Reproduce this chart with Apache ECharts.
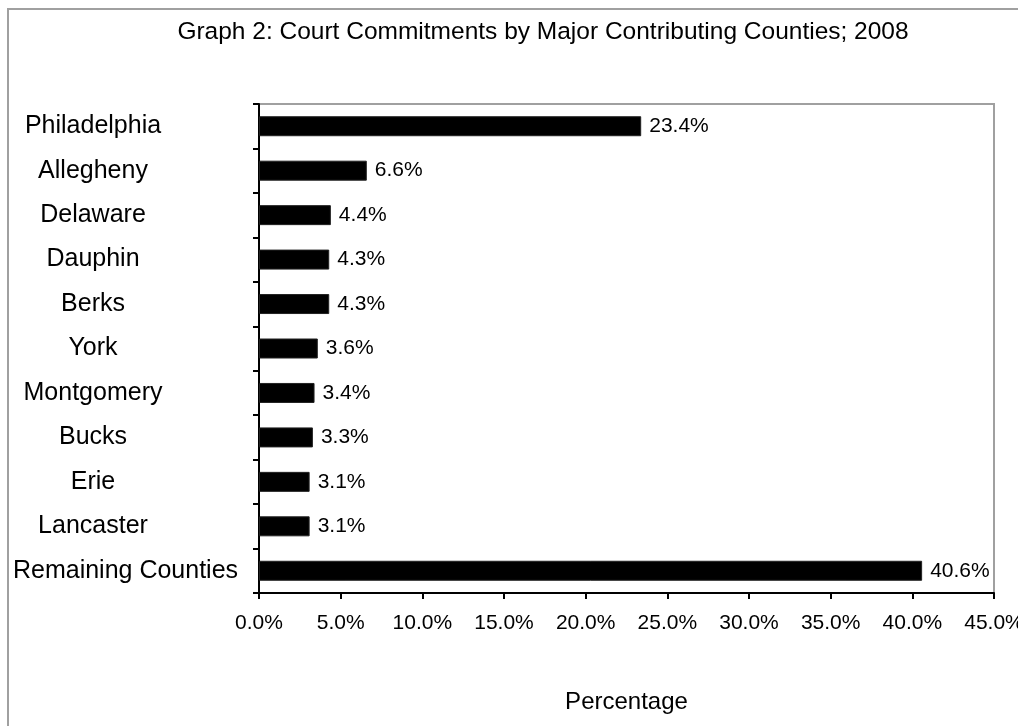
<!DOCTYPE html>
<html>
<head>
<meta charset="utf-8">
<script src="https://cdn.jsdelivr.net/npm/echarts@6/dist/echarts.min.js"></script>
<style>html,body{margin:0;padding:0;background:#fff}#c{width:1018px;height:726px}</style>
</head>
<body>
<div id="c"></div>
<script>
const counties = ['Philadelphia','Allegheny','Delaware','Dauphin','Berks','York','Montgomery','Bucks','Erie','Lancaster','Remaining Counties'];
const percentages = [23.4, 6.6, 4.4, 4.3, 4.3, 3.6, 3.4, 3.3, 3.1, 3.1, 40.6];
const xTicks = [0, 5, 10, 15, 20, 25, 30, 35, 40, 45];

const FONT = "'Liberation Sans', Arial, sans-serif";
const chart = echarts.init(document.getElementById('c'), null, {renderer: 'canvas'});
chart.setOption({
  animation: false,
  backgroundColor: '#fff',
  textStyle: {fontFamily: FONT, color: '#000'},
  graphic: [{
    type: 'rect',
    shape: {x: 8, y: 9, width: 1030, height: 740},
    style: {fill: 'none', stroke: '#a0a0a0', lineWidth: 2},
    silent: true
  }],
  title: {
    text: 'Graph 2: Court Commitments by Major Contributing Counties; 2008',
    left: 538, top: 15, textAlign: 'center',
    textStyle: {fontFamily: FONT, fontSize: 24.5, fontWeight: 'normal', color: '#000'}
  },
  grid: {
    left: 259, right: 24, top: 104, bottom: 133,
    outerBoundsMode: 'none', containLabel: false,
    show: true, borderColor: '#a0a0a0', borderWidth: 2, backgroundColor: 'transparent'
  },
  xAxis: {
    type: 'value', min: 0, max: 45, interval: 5,
    name: 'Percentage', nameLocation: 'middle', nameGap: 97,
    nameTextStyle: {fontFamily: FONT, fontSize: 24, color: '#000'},
    axisLine: {show: true, lineStyle: {color: '#000', width: 2}},
    axisTick: {show: true, length: 6, lineStyle: {color: '#000', width: 2}},
    splitLine: {show: false},
    axisLabel: {
      fontFamily: FONT, fontSize: 21, color: '#000', margin: 20,
      formatter: v => xTicks.includes(v) ? v.toFixed(1) + '%' : ''
    }
  },
  yAxis: {
    type: 'category', data: counties, inverse: true,
    axisLine: {show: true, lineStyle: {color: '#000', width: 2}},
    axisTick: {show: true, length: 6, lineStyle: {color: '#000', width: 2}},
    axisLabel: {
      fontFamily: FONT, fontSize: 25, color: '#000', align: 'center', margin: 166,
      formatter: v => v === 'Remaining Counties' ? '{w|' + v + '}' : v,
      rich: {w: {fontFamily: FONT, fontSize: 25, color: '#000', padding: [0, 0, 0, 65]}}
    }
  },
  series: [{
    type: 'bar',
    data: percentages,
    barWidth: 20,
    itemStyle: {color: '#000', borderColor: '#222', borderWidth: 1},
    label: {
      show: true, position: 'right', distance: 8,
      fontFamily: FONT, fontSize: 21, color: '#000',
      formatter: p => p.value.toFixed(1) + '%'
    }
  }]
});
</script>
</body>
</html>
